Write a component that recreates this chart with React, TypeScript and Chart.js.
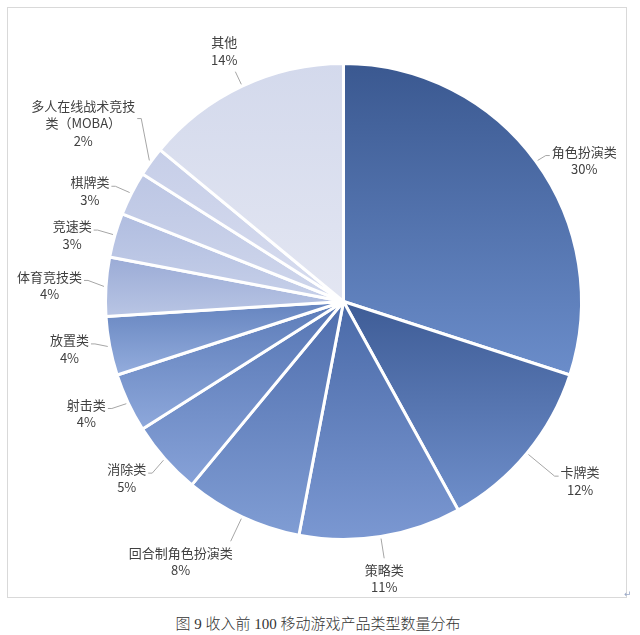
import React, { useEffect, useRef } from 'react';
import { Chart, registerables } from 'chart.js';

Chart.register(...registerables);

// clockwise from 12 o'clock
const categories = [
  '角色扮演类',
  '卡牌类',
  '策略类',
  '回合制角色扮演类',
  '消除类',
  '射击类',
  '放置类',
  '体育竞技类',
  '竞速类',
  '棋牌类',
  '多人在线战术竞技类（MOBA）',
  '其他',
];
const shares = [30, 12, 11, 8, 5, 4, 4, 4, 3, 3, 2, 14];

// each slice is filled with a top->bottom gradient
const topColors = [
  '#3a5890', '#3e5c96', '#4a6aa8', '#4f6ead', '#5575b3', '#5b7bb8',
  '#6584bf', '#9aabd6', '#b0bde0', '#bcc6e4', '#c6cee8', '#d3d9ec',
];
const bottomColors = [
  '#6b8dca', '#6f8fcb', '#7b98d2', '#809dd4', '#87a2d8', '#8ea8db',
  '#94addd', '#b9c5e4', '#c7d0e9', '#d0d7ec', '#d8ddef', '#e3e6f2',
];

// label placement tweaks: distance past the rim, extra vertical shift (px)
const labelGap = [12, 36, 22, 27, 17, 18, 15, 18, 18, 18, 12, 16];
const labelRise = [1, 0, 0, 0, 3, -2, -5, -5, 0, 1, -36, 0];

const LABEL_FONT = '13px "Noto Sans CJK SC", "Noto Sans", sans-serif';
const LINE_H = 17.5;
const WRAP_W = 112;

const total = shares.reduce((a, b) => a + b, 0);

const sliceGradient = (c: any) => {
  const i = c.dataIndex;
  const chart = c.chart;
  const area = chart.chartArea;
  if (!area || i === undefined) return bottomColors[i ?? 0];
  const cx = (area.left + area.right) / 2;
  const cy = (area.top + area.bottom) / 2;
  const r = Math.min(area.right - area.left, area.bottom - area.top) / 2;
  const before = shares.slice(0, i).reduce((a, b) => a + b, 0);
  const a0 = -Math.PI / 2 + (before / total) * Math.PI * 2;
  const a1 = a0 + (shares[i] / total) * Math.PI * 2;
  const ys = [cy, cy + r * Math.sin(a0), cy + r * Math.sin(a1)];
  for (let k = -1; k <= 4; k++) {
    const q = (k * Math.PI) / 2;
    if (q > a0 && q < a1) ys.push(cy + r * Math.sin(q));
  }
  const y0 = Math.min(...ys);
  const y1 = Math.max(...ys);
  const g = chart.ctx.createLinearGradient(0, y0, 0, y1 + 0.01);
  g.addColorStop(0, topColors[i]);
  g.addColorStop(1, bottomColors[i]);
  return g;
};

const wrapText = (ctx: CanvasRenderingContext2D, text: string, maxW: number) => {
  const out: string[] = [];
  let line = '';
  for (const ch of Array.from(text)) {
    if (line && ctx.measureText(line + ch).width > maxW) {
      out.push(line);
      line = ch;
    } else {
      line += ch;
    }
  }
  if (line) out.push(line);
  return out;
};

const outerLabels = {
  id: 'outerLabels',
  afterDatasetsDraw(chart: any) {
    const ctx: CanvasRenderingContext2D = chart.ctx;
    const meta = chart.getDatasetMeta(0);
    ctx.save();
    ctx.font = LABEL_FONT;
    ctx.textAlign = 'center';
    ctx.textBaseline = 'middle';
    ctx.fillStyle = '#404040';
    ctx.strokeStyle = '#a6a6a6';
    ctx.lineWidth = 1;
    meta.data.forEach((arc: any, i: number) => {
      const { x, y, startAngle, endAngle, outerRadius } = arc.getProps(
        ['x', 'y', 'startAngle', 'endAngle', 'outerRadius'],
        true
      );
      const mid = (startAngle + endAngle) / 2;
      const dx = Math.cos(mid);
      const dy = Math.sin(mid);
      const ex = x + (outerRadius + 2) * dx;
      const ey = y + (outerRadius + 2) * dy;
      const ax = x + (outerRadius + labelGap[i]) * dx;
      const ay = y + (outerRadius + labelGap[i]) * dy + labelRise[i];

      const lines = wrapText(ctx, categories[i], WRAP_W);
      lines.push(Math.round((shares[i] / total) * 100) + '%');
      const bw = Math.max(...lines.map((l) => ctx.measureText(l).width));
      const bh = lines.length * LINE_H;

      let bx: number;
      let by: number;
      ctx.beginPath();
      ctx.moveTo(ex, ey);
      ctx.lineTo(ax, ay);
      if (Math.abs(dy) > 0.85) {
        bx = Math.abs(dx) < 0.25 ? ax : dx < 0 ? ax + 2 - bw / 2 : ax - 2 + bw / 2;
        by = dy > 0 ? ay + 3 : ay - 3 - bh;
      } else {
        const side = dx > 0 ? 1 : -1;
        ctx.lineTo(ax + side * 4, ay);
        bx = ax + side * (6 + bw / 2);
        by = ay + 5 - bh / 2;
      }
      ctx.stroke();
      lines.forEach((l, k) => ctx.fillText(l, bx, by + LINE_H * (k + 0.5)));
    });
    ctx.restore();
  },
};

const App: React.FC = () => {
  const canvasRef = useRef<HTMLCanvasElement>(null);
  const chartRef = useRef<Chart | null>(null);

  useEffect(() => {
    if (!canvasRef.current) return;
    const ctx = canvasRef.current.getContext('2d');
    if (!ctx) return;

    chartRef.current = new Chart(ctx, {
      type: 'pie',
      data: {
        labels: categories,
        datasets: [
          {
            data: shares,
            backgroundColor: sliceGradient as any,
            borderColor: '#ffffff',
            borderWidth: 3,
          },
        ],
      },
      options: {
        responsive: false,
        animation: false,
        events: [],
        layout: { padding: { left: 104, right: 57, top: 62, bottom: 59 } },
        plugins: {
          legend: { display: false },
          tooltip: { enabled: false },
        },
      },
      plugins: [outerLabels],
    });

    return () => {
      if (chartRef.current) {
        chartRef.current.destroy();
        chartRef.current = null;
      }
    };
  }, []);

  return (
    <div style={{ position: 'absolute', left: 0, top: 0, width: 640, height: 635, background: '#fff' }}>
      <div
        style={{
          position: 'absolute',
          left: 7,
          top: 7,
          width: 618,
          height: 589,
          border: '1px solid #d9d9d9',
        }}
      />
      <canvas
        ref={canvasRef}
        width={640}
        height={600}
        style={{ position: 'absolute', left: 0, top: 0, width: 640, height: 600 }}
      />
      <div
        style={{
          position: 'absolute',
          left: 0,
          top: 614,
          width: 636,
          textAlign: 'center',
          font: '300 15px "Liberation Serif", "Noto Sans CJK SC", serif',
          lineHeight: '20px',
          color: '#333',
        }}
      >
        图 9 收入前 100 移动游戏产品类型数量分布
      </div>
      <div
        style={{
          position: 'absolute',
          left: 624,
          top: 589,
          font: '9px "DejaVu Sans", sans-serif',
          color: '#9aa9c8',
        }}
      >
        ↵
      </div>
    </div>
  );
};

export default App;
